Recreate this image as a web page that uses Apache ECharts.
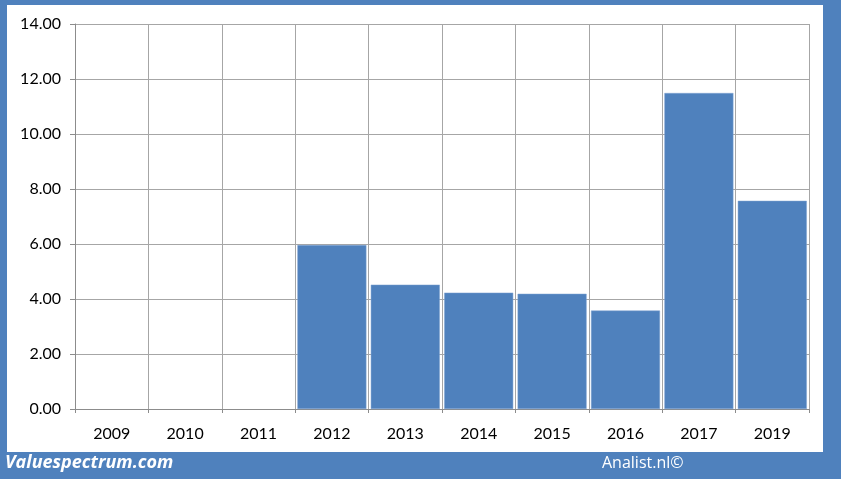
<!DOCTYPE html>
<html><head><meta charset="utf-8">
<script src="https://cdn.jsdelivr.net/npm/echarts@6/dist/echarts.min.js"></script>
<style>html,body{margin:0;padding:0;}#c{width:841px;height:479px;}</style>
</head><body><div id="c"></div>
<script>
const categories = ['2009','2010','2011','2012','2013','2014','2015','2016','2017','2019'];
const values = [null, null, null, 5.96, 4.52, 4.23, 4.19, 3.58, 11.49, 7.57];
const yTicks = [0, 2, 4, 6, 8, 10, 12, 14];

const chart = echarts.init(document.getElementById('c'), null, {renderer:'canvas'});
chart.setOption({
  backgroundColor: '#4f81bd',
  animation: false,
  graphic: [
    {type:'rect', z:-10, shape:{x:7, y:5, width:816, height:447}, style:{fill:'#ffffff'}},
    {type:'text', left:5, top:454, style:{text:'Valuespectrum.com', fill:'#ffffff', font:'italic bold 18px "Open Sans", sans-serif'}},
    {type:'text', left:602, top:455, style:{text:'Analist.nl©', fill:'#ffffff', font:'16px "Open Sans", sans-serif'}}
  ],
  grid: {left:75, right:32, top:24, bottom:70},
  xAxis: {
    type:'category', data:categories, boundaryGap:true,
    axisLine:{show:true, lineStyle:{color:'#8c8c8c', width:1}},
    axisTick:{show:true, length:4, interval:0, lineStyle:{color:'#8c8c8c'}},
    splitLine:{show:true, interval:0, lineStyle:{color:'#a6a6a6', width:1}},
    axisLabel:{interval:0, color:'#000', fontSize:16, fontFamily:'Lato, "Open Sans", sans-serif', margin:17}
  },
  yAxis: {
    type:'value', min:yTicks[0], max:yTicks[yTicks.length-1], interval:2,
    axisLine:{show:true, lineStyle:{color:'#8c8c8c'}},
    axisTick:{show:true, length:5, lineStyle:{color:'#8c8c8c'}},
    splitLine:{show:true, lineStyle:{color:'#a6a6a6', width:1}},
    axisLabel:{color:'#000', fontSize:16, fontFamily:'Lato, "Open Sans", sans-serif', margin:14, formatter:v=>v.toFixed(2)}
  },
  series: [{
    type:'bar', data:values, barCategoryGap:'6%',
    itemStyle:{color:'#4f81bd', borderColor:'#7fa3d0', borderWidth:0.5}
  }]
});
</script></body></html>
